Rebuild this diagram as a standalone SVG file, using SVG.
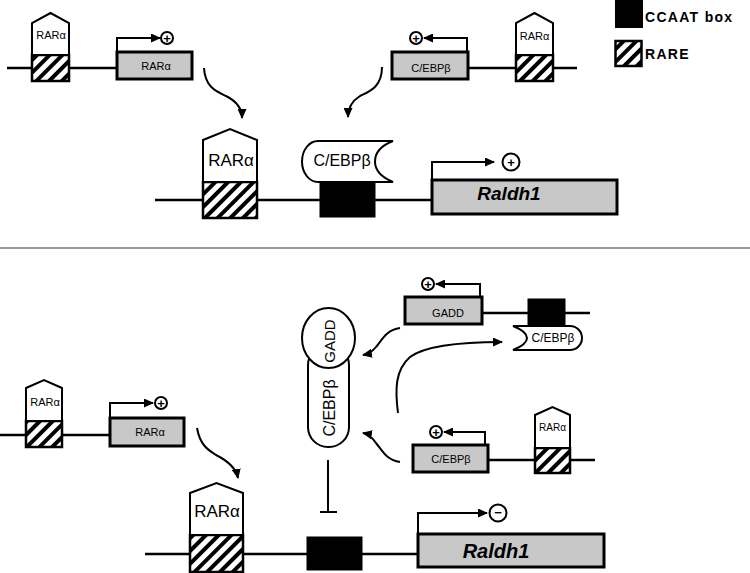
<svg xmlns="http://www.w3.org/2000/svg" width="750" height="573" viewBox="0 0 750 573">
<defs>
<pattern id="hatch" patternUnits="userSpaceOnUse" width="9" height="9" patternTransform="rotate(45)">
<rect width="9" height="9" fill="#fff"/>
<rect x="0" y="0" width="4" height="9" fill="#000"/>
</pattern>
<marker id="ah" markerUnits="userSpaceOnUse" markerWidth="10" markerHeight="9" refX="9" refY="4.5" orient="auto">
<path d="M0,0 L10,4.5 L0,9 Z" fill="#000"/>
</marker>
</defs>
<style>
.dna{stroke:#000;stroke-width:2.5;fill:none}
.rare{fill:url(#hatch);stroke:#000;stroke-width:2.5}
.ccaat{fill:#000;stroke:#000;stroke-width:1}
.rar{fill:#fff;stroke:#000;stroke-width:2}
.gene{fill:#c8c8c8;stroke:#000;stroke-width:3}
.prom{stroke:#000;stroke-width:2;fill:none;marker-end:url(#ah)}
.arc{stroke:#000;stroke-width:2;fill:none;marker-end:url(#ah)}
.circ{fill:#fff;stroke:#000;stroke-width:2}
.prot{fill:#fff;stroke:#000;stroke-width:2}
text{font-family:"Liberation Sans",Arial,sans-serif;fill:#000}
.s{font-size:11px;text-anchor:middle}
.m{font-size:16px;text-anchor:middle}
.big{font-size:17px;text-anchor:middle}
.ral{font-size:19px;font-weight:bold;font-style:italic;text-anchor:middle}
.sign{font-size:13px;font-weight:bold;text-anchor:middle;dominant-baseline:central}
.leg{font-size:14px;font-weight:bold;letter-spacing:1.3px}
</style>

<g id="legend">
<rect x="615" y="0" width="28" height="28" fill="#000"/>
<text class="leg" x="645" y="22">CCAAT box</text>
<rect class="rare" x="615.5" y="41" width="26" height="25"/>
<text class="leg" x="645" y="59">RARE</text>
</g>

<g id="top-left-gene">
<line class="dna" x1="7" y1="68" x2="117" y2="68"/>
<rect class="rare" x="32" y="55" width="37" height="26"/>
<path class="rar" d="M32,55 V23 L50.5,13 L69,23 V55 Z"/>
<text class="s" x="51" y="39">RARα</text>
<rect class="gene" x="117" y="52" width="75" height="27"/>
<text class="s" x="156" y="70">RARα</text>
<path class="prom" d="M117,52 V38 H160"/>
<circle class="circ" cx="167" cy="38" r="6"/>
<text class="sign" x="167" y="38">+</text>
</g>

<g id="top-right-gene">
<line class="dna" x1="468" y1="68" x2="577" y2="68"/>
<rect class="rare" x="516" y="55" width="37" height="26"/>
<path class="rar" d="M516,55 V23 L534.5,13 L553,23 V55 Z"/>
<text class="s" x="534.5" y="40">RARα</text>
<rect class="gene" x="392" y="52" width="76" height="27"/>
<text class="s" x="431" y="72">C/EBPβ</text>
<path class="prom" d="M467,52 V38 H424"/>
<circle class="circ" cx="416" cy="38" r="6"/>
<text class="sign" x="416" y="38">+</text>
</g>

<g id="top-raldh1">
<line class="dna" x1="155" y1="200" x2="432" y2="200"/>
<rect class="rare" x="203" y="182" width="54" height="36"/>
<path class="rar" d="M203,182 V140 L230,129 L257,140 V182 Z"/>
<text class="big" x="231" y="166">RARα</text>
<rect class="ccaat" x="320" y="180" width="55" height="37"/>
<path class="prot" d="M318,141 H393 C380,146 375,154 375,161.5 C375,170 381,177 393,182 H318 A16,20.5 0 0 1 318,141 Z"/>
<text class="m" x="342" y="166">C/EBPβ</text>
<rect class="gene" x="432" y="180" width="185" height="34"/>
<text class="ral" x="509" y="200">Raldh1</text>
<path class="prom" d="M432,180 V162 H494"/>
<circle class="circ" cx="511" cy="162" r="8.5"/>
<text class="sign" x="511" y="162">+</text>
</g>

<line id="separator" x1="0" y1="248" x2="750" y2="248" stroke="#333" stroke-width="1"/>

<g id="bottom-left-gene">
<line class="dna" x1="0" y1="435" x2="110" y2="435"/>
<rect class="rare" x="26" y="421" width="36" height="26"/>
<path class="rar" d="M26,421 V388 L44,380 L62,388 V421 Z"/>
<text class="s" x="45" y="406">RARα</text>
<rect class="gene" x="110" y="418" width="74" height="28"/>
<text class="s" x="150" y="436">RARα</text>
<path class="prom" d="M110,418 V403 H153"/>
<circle class="circ" cx="161" cy="403" r="6"/>
<text class="sign" x="161" y="403">+</text>
</g>

<g id="gadd-gene">
<line class="dna" x1="482" y1="313" x2="590" y2="313"/>
<rect class="ccaat" x="528" y="299" width="37" height="27"/>
<rect class="gene" x="405" y="297" width="77" height="27"/>
<text class="s" x="448" y="317">GADD</text>
<path class="prom" d="M480,297 V284 H436"/>
<circle class="circ" cx="428" cy="284" r="6"/>
<text class="sign" x="428" y="284">+</text>
<path class="prot" d="M513,326 H570 A12,12 0 0 1 570,350 H513 C523,346 527,342 527,338 C527,334 523,330 513,326 Z"/>
<text class="s" x="553" y="342" style="font-size:12px">C/EBPβ</text>
</g>

<g id="cebpb-gene">
<line class="dna" x1="488" y1="460" x2="595" y2="460"/>
<rect class="rare" x="535" y="448" width="35" height="25"/>
<path class="rar" d="M535,448 V415 L552.5,407 L570,415 V448 Z"/>
<text class="s" x="552.5" y="431" style="font-size:10px">RARα</text>
<rect class="gene" x="413" y="445" width="75" height="27"/>
<text class="s" x="451" y="463">C/EBPβ</text>
<path class="prom" d="M485,445 V432 H444"/>
<circle class="circ" cx="436" cy="432" r="6"/>
<text class="sign" x="436" y="432">+</text>
</g>

<g id="complex">
<rect class="prot" x="308" y="345" width="41" height="102" rx="20" ry="20"/>
<ellipse class="prot" cx="328.5" cy="338" rx="26.5" ry="30"/>
<text class="m" transform="translate(335,341) rotate(-90)" style="font-size:15px">GADD</text>
<text class="m" transform="translate(335,408) rotate(-90)">C/EBPβ</text>
</g>

<g id="bottom-raldh1">
<line class="dna" x1="145" y1="554" x2="418" y2="554"/>
<rect class="rare" x="190" y="535" width="53" height="37"/>
<path class="rar" d="M190,535 V493 L216.5,483 L243,493 V535 Z"/>
<text class="big" x="217" y="517">RARα</text>
<rect class="ccaat" x="307" y="537" width="55" height="33"/>
<rect class="gene" x="418" y="534" width="186" height="33"/>
<text class="ral" x="496" y="558" style="font-size:20px">Raldh1</text>
<path class="prom" d="M418,534 V513 H487"/>
<circle class="circ" cx="498" cy="513" r="8.5"/>
<text class="sign" x="498" y="512.5">−</text>
</g>

<g id="connectors">
<path class="arc" d="M204,68 C205,88 218,92 226,96 C236,101 242,108 242,118"/>
<path class="arc" d="M382,67 C382,88 368,92 360,96 C352,101 348,108 348,117"/>
<path class="arc" d="M197,428 C200,445 208,450 216,455 C228,461 236,468 238,478"/>
<path class="arc" d="M400,328 C386,330 382,340 376,347 C372,352 368,354 363,355"/>
<path class="arc" d="M400,462 C386,460 382,450 376,443 C372,437 368,434 363,433"/>
<path class="arc" d="M398,413 C395,390 395,370 410,357 C425,346 460,342 502,342"/>
<path d="M328,460 V512 M320,512 H337" stroke="#000" stroke-width="2" fill="none"/>
</g>
</svg>
